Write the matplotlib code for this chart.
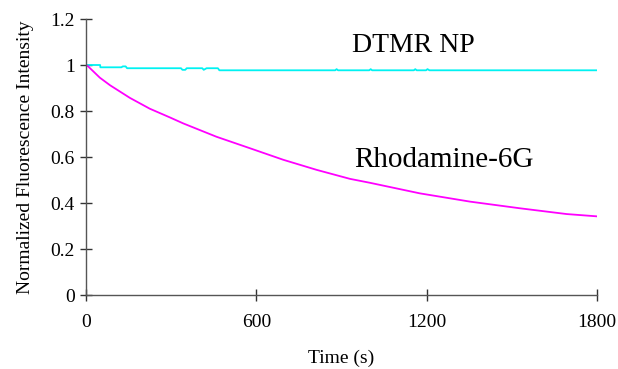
import matplotlib
matplotlib.use("Agg")
import matplotlib.pyplot as plt

# Time (s) and normalized intensity
rhod_t = [0, 7, 49, 85, 155, 225, 296, 343, 460, 578, 695, 813, 930, 1000, 1176, 1353, 1529, 1693, 1800]
rhod_v = [1.0, 0.995, 0.945, 0.912, 0.857, 0.810, 0.772, 0.746, 0.688, 0.638, 0.588, 0.544, 0.505, 0.488, 0.442, 0.406, 0.377, 0.352, 0.342]

dtmr_t = [0, 50, 51, 125, 130, 140, 145, 335, 340, 350, 355, 410, 415, 425, 430, 465, 470,
          878, 883, 888, 998, 1003, 1008, 1155, 1160, 1165, 1198, 1203, 1210, 1800]
dtmr_v = [1.0, 1.0, 0.99, 0.99, 0.994, 0.994, 0.986, 0.986, 0.979, 0.979, 0.986, 0.986, 0.979, 0.986, 0.986, 0.986, 0.977,
          0.977, 0.982, 0.977, 0.977, 0.982, 0.977, 0.977, 0.982, 0.977, 0.977, 0.982, 0.977, 0.977]

x_ticks = [0, 600, 1200, 1800]
y_ticks = [0, 0.2, 0.4, 0.6, 0.8, 1, 1.2]
y_ticklabels = ["0", "0.2", "0.4", "0.6", "0.8", "1", "1.2"]

plt.rcParams["font.family"] = ["Liberation Serif", "DejaVu Serif"]

fig = plt.figure(figsize=(6.18, 3.69), dpi=100)
ax = fig.add_axes([0.139, 0.2005, 0.827, 0.748])

ax.plot(dtmr_t, dtmr_v, color="#00f2f2", lw=1.3)
ax.plot(rhod_t, rhod_v, color="#ff00ff", lw=1.3)

ax.set_xlim(0, 1800); ax.set_ylim(0, 1.2)
ax.set_xticks(x_ticks); ax.set_yticks(y_ticks)
ax.set_yticklabels(y_ticklabels)
for side in ("top", "right"):
    ax.spines[side].set_visible(False)
for side in ("left", "bottom"):
    ax.spines[side].set_color("#555555"); ax.spines[side].set_linewidth(1.0)
ax.tick_params(axis="both", direction="inout", length=8, width=1.0, color="#333333", labelsize=14)
ax.tick_params(axis="x", pad=10)
ax.tick_params(axis="y", pad=4)

ax.set_xlabel("Time (s)", fontsize=14, labelpad=13)
ax.set_ylabel("Normalized Fluorescence Intensity", fontsize=14, labelpad=12)

ax.text(1155, 1.085, "DTMR NP", fontsize=20, ha="center", va="center")
ax.text(1261, 0.585, "Rhodamine-6G", fontsize=21, ha="center", va="center")

fig.savefig("out.png", dpi=100)
